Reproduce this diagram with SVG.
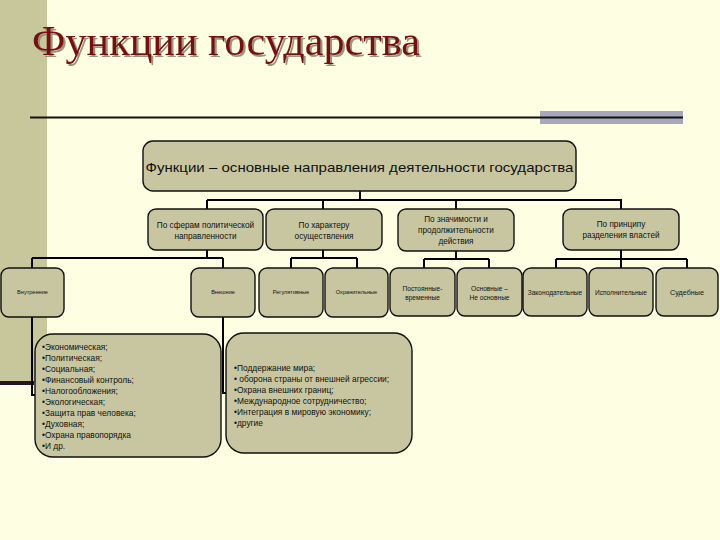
<svg xmlns="http://www.w3.org/2000/svg" width="720" height="540" viewBox="0 0 720 540">
<defs>
<filter id="sh" x="-5%" y="-20%" width="115%" height="150%">
<feDropShadow dx="2" dy="2" stdDeviation="0.6" flood-color="#8C8A78" flood-opacity="0.9"/>
</filter>
</defs>
<style>
.bg{fill:#FEFEE2}
.box{fill:#C8C6A0;stroke:#111;stroke-width:1.4}
.t{font-family:"Liberation Sans",Arial,sans-serif;fill:#111;text-anchor:middle}
.l{font-family:"Liberation Sans",Arial,sans-serif;fill:#111;font-size:8.4px}
.c{fill:none;stroke:#000;stroke-width:2}
</style>
<rect class="bg" x="0" y="0" width="720" height="540"/>
<rect x="0" y="0" width="47" height="383" fill="#C8C79C"/>
<rect x="0" y="381" width="34" height="4" fill="#2A1424"/>
<g id="title">
<text x="32" y="55" font-family="'Liberation Serif','Times New Roman',serif" font-size="42" fill="#7A0C0C" textLength="388" lengthAdjust="spacingAndGlyphs" filter="url(#sh)">Функции государства</text>
</g>
<rect x="540" y="111" width="143" height="13" fill="#A8A8BA"/>
<line x1="30" y1="117.5" x2="683" y2="117.5" stroke="#111" stroke-width="2"/>
<g id="connectors" class="c">
<path d="M360 191V200M207 200H622M207 200V209M323 200V209M456 200V209M621 200V209"/>
<path d="M207 250V258M32 258H223M32 258V268M223 258V268"/>
<path d="M323 250V258M291 258H357M291 258V268M357 258V268"/>
<path d="M456 251V259M424 259H489M424 259V268M489 259V268"/>
<path d="M621 250V259M556 259H687M556 259V268M621 259V268M687 259V268"/>
<path d="M32 317V395H35"/>
<path d="M223 317V393H226"/>
</g>
<g id="root">
<rect class="box" x="143" y="141" width="433" height="50" rx="10"/>
<text class="t" x="359.5" y="172" font-size="13.5" textLength="428" lengthAdjust="spacingAndGlyphs">Функции – основные направления деятельности государства</text>
</g>
<g id="n-spheres">
<rect class="box" x="148" y="209" width="115" height="41" rx="8"/>
<text class="t" x="205.5" y="228" font-size="8.2">По сферам политической</text>
<text class="t" x="205.5" y="238.5" font-size="8.2">направленности</text>
</g>
<g id="n-character">
<rect class="box" x="266" y="209" width="116" height="41" rx="8"/>
<text class="t" x="324" y="228" font-size="8.2">По характеру</text>
<text class="t" x="324" y="238.5" font-size="8.2">осуществления</text>
</g>
<g id="n-significance">
<rect class="box" x="398" y="209" width="116" height="42" rx="8"/>
<text class="t" x="456" y="222" font-size="8.2">По значимости и</text>
<text class="t" x="456" y="233" font-size="8.2">продолжительности</text>
<text class="t" x="456" y="244" font-size="8.2">действия</text>
</g>
<g id="n-powers">
<rect class="box" x="563" y="209" width="116" height="41" rx="8"/>
<text class="t" x="621" y="227" font-size="8.2">По принципу</text>
<text class="t" x="621" y="238" font-size="8.2">разделения властей</text>
</g>
<g id="n-internal">
<rect class="box" x="1" y="268" width="63" height="49" rx="8"/>
<text class="t" x="32.5" y="294" font-size="5.6">Внутренние</text>
</g>
<g id="n-external">
<rect class="box" x="191" y="268" width="64" height="49" rx="8"/>
<text class="t" x="223" y="294" font-size="5.6">Внешние</text>
</g>
<g id="n-regulative">
<rect class="box" x="259" y="268" width="64" height="49" rx="8"/>
<text class="t" x="291" y="294" font-size="5.6">Регулятивные</text>
</g>
<g id="n-protective">
<rect class="box" x="325" y="268" width="63" height="49" rx="8"/>
<text class="t" x="356.5" y="294" font-size="5.6">Охранительные</text>
</g>
<g id="n-permanent">
<rect class="box" x="390" y="268" width="65" height="48" rx="8"/>
<text class="t" x="422.5" y="291" font-size="6.6">Постоянные-</text>
<text class="t" x="422.5" y="299.5" font-size="6.6">временные</text>
</g>
<g id="n-main">
<rect class="box" x="457" y="268" width="65" height="48" rx="8"/>
<text class="t" x="489.5" y="291" font-size="6.6">Основные –</text>
<text class="t" x="489.5" y="299.5" font-size="6.6">Не основные</text>
</g>
<g id="n-legislative">
<rect class="box" x="523" y="268" width="64" height="48" rx="8"/>
<text class="t" x="555" y="294.5" font-size="6.6">Законодательные</text>
</g>
<g id="n-executive">
<rect class="box" x="589" y="268" width="64" height="48" rx="8"/>
<text class="t" x="621" y="294.5" font-size="6.6">Исполнительные</text>
</g>
<g id="n-judicial">
<rect class="box" x="656" y="268" width="62" height="48" rx="8"/>
<text class="t" x="687" y="294.5" font-size="7.2">Судебные</text>
</g>
<g id="list-internal">
<rect class="box" x="35" y="334" width="186" height="123" rx="18"/>
<text class="l" x="42" y="350">•Экономическая;</text>
<text class="l" x="42" y="361">•Политическая;</text>
<text class="l" x="42" y="372">•Социальная;</text>
<text class="l" x="42" y="383">•Финансовый контроль;</text>
<text class="l" x="42" y="394">•Налогообложения;</text>
<text class="l" x="42" y="405">•Экологическая;</text>
<text class="l" x="42" y="416">•Защита прав человека;</text>
<text class="l" x="42" y="427">•Духовная;</text>
<text class="l" x="42" y="438">•Охрана правопорядка</text>
<text class="l" x="42" y="449">•И др.</text>
</g>
<g id="list-external">
<rect class="box" x="226" y="333" width="186" height="120" rx="18"/>
<text class="l" x="234" y="371">•Поддержание мира;</text>
<text class="l" x="234" y="382">• оборона страны от внешней агрессии;</text>
<text class="l" x="234" y="393">•Охрана внешних границ;</text>
<text class="l" x="234" y="404">•Международное сотрудничество;</text>
<text class="l" x="234" y="415">•Интеграция в мировую экономику;</text>
<text class="l" x="234" y="426">•другие</text>
</g>
</svg>
